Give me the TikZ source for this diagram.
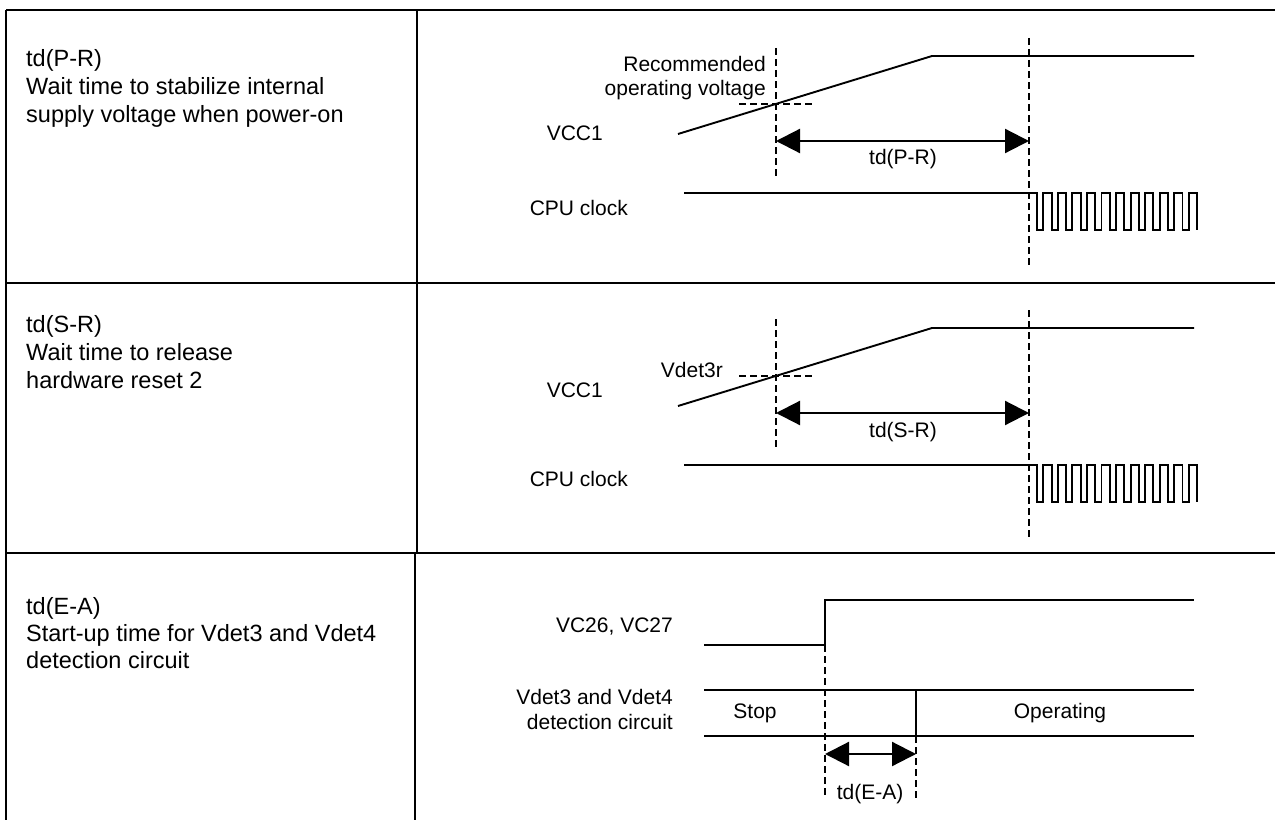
\documentclass[tikz,border=0pt]{standalone}
\usepackage{fontspec}
\setmainfont{Liberation Sans}
\usetikzlibrary{arrows.meta}
\begin{document}
\begin{tikzpicture}[x=1bp,y=-1bp,
  frame/.style={line width=2.4bp},
  sig/.style={line width=1.9bp, line join=miter},
  guide/.style={line width=2.4bp, dash pattern=on 7bp off 4bp},
  dimarrow/.style={line width=2.2bp, {Triangle[length=24bp,width=24bp]}-{Triangle[length=24bp,width=24bp]}},
  lbl/.style={font=\fontsize{21bp}{24bp}\selectfont, inner sep=0pt},
  desc/.style={font=\fontsize{23.5bp}{28bp}\selectfont, inner sep=0pt, anchor=base west},
]
\useasboundingbox (0,0) rectangle (1275,820);

% ---------- table frame ----------
\coordinate (tl) at (6,10);   \coordinate (tr) at (1275,10);
\coordinate (bl) at (6,820);
\coordinate (m1l) at (6,283); \coordinate (m1r) at (1275,283);
\coordinate (m2l) at (6,553); \coordinate (m2r) at (1275,553);
\coordinate (c1t) at (417,10); \coordinate (c1b) at (417,553);
\coordinate (c2t) at (415,553); \coordinate (c2b) at (415,820);
\draw[frame] (tl) -- (tr);
\draw[frame] (tl) -- (bl);
\draw[frame] (m1l) -- (m1r);
\draw[frame] (m2l) -- (m2r);
\draw[frame] (c1t) -- (c1b);
\draw[frame] (c2t) -- (c2b);

% ---------- left column ----------
\node[desc] (d1a) at (26,67)  {td(P-R)};
\node[desc] (d1b) at (26,95)  {Wait time to stabilize internal};
\node[desc] (d1c) at (26,123) {supply voltage when power-on};

\node[desc] (d2a) at (26,332) {td(S-R)};
\node[desc] (d2b) at (26,360) {Wait time to release};
\node[desc] (d2c) at (26,388) {hardware reset 2};

\node[desc] (d3a) at (26,614) {td(E-A)};
\node[desc] (d3b) at (26,641) {Start-up time for Vdet3 and Vdet4};
\node[desc] (d3c) at (26,668) {detection circuit};

% ---------- row 1 ----------
\node[lbl, anchor=base east] (rec1) at (766,72) {Recommended};
\node[lbl, anchor=base east] (rec2) at (766,96) {operating voltage};
\node[lbl, anchor=base east] (vcc1) at (603,140) {VCC1};
\node[lbl, anchor=base east] (cpu1) at (628,215) {CPU clock};
\node[lbl, anchor=base] (tdpr) at (903,164) {td(P-R)};

\coordinate (r1a) at (678,134); \coordinate (r1b) at (932,56); \coordinate (r1c) at (1194,56);
\draw[sig] (r1a) -- (r1b) -- (r1c);
\coordinate (g1t) at (776,48);  \coordinate (g1b) at (776,179);
\coordinate (g2t) at (1029,38); \coordinate (g2b) at (1029,265);
\coordinate (h1l) at (739,104); \coordinate (h1r) at (815,104);
\draw[guide] (g1t) -- (g1b);
\draw[guide] (g2t) -- (g2b);
\draw[guide] (h1l) -- (h1r);
\coordinate (a1l) at (776,141); \coordinate (a1r) at (1029,141);
\draw[dimarrow] (a1l) -- (a1r);
\coordinate (k1s) at (684,193); \coordinate (k1e) at (1037,193);
\draw[sig] (k1s) -- (k1e) foreach \i in {1,...,11} { -- ++(0,37) -- ++(6.3,0) -- ++(0,-37) -- ++(8.245,0) } -- ++(0,37);

% ---------- row 2 ----------
\node[lbl, anchor=base east] (vdr) at (723,377) {Vdet3r};
\node[lbl, anchor=base east] (vcc2) at (603,397) {VCC1};
\node[lbl, anchor=base east] (cpu2) at (628,486) {CPU clock};
\node[lbl, anchor=base] (tdsr) at (903,437) {td(S-R)};

\coordinate (r2a) at (678,406); \coordinate (r2b) at (932,328); \coordinate (r2c) at (1194,328);
\draw[sig] (r2a) -- (r2b) -- (r2c);
\coordinate (g3t) at (776,319);  \coordinate (g3b) at (776,451);
\coordinate (g4t) at (1029,310); \coordinate (g4b) at (1029,537);
\coordinate (h2l) at (739,376);  \coordinate (h2r) at (815,376);
\draw[guide] (g3t) -- (g3b);
\draw[guide] (g4t) -- (g4b);
\draw[guide] (h2l) -- (h2r);
\coordinate (a2l) at (776,413); \coordinate (a2r) at (1029,413);
\draw[dimarrow] (a2l) -- (a2r);
\coordinate (k2s) at (684,465); \coordinate (k2e) at (1037,465);
\draw[sig] (k2s) -- (k2e) foreach \i in {1,...,11} { -- ++(0,37) -- ++(6.3,0) -- ++(0,-37) -- ++(8.245,0) } -- ++(0,37);

% ---------- row 3 ----------
\node[lbl, anchor=base east] (vc) at (673,632) {VC26, VC27};
\node[lbl, anchor=base east] (vd1) at (673,704) {Vdet3 and Vdet4};
\node[lbl, anchor=base east] (vd2) at (673,729) {detection circuit};
\node[lbl, anchor=base] (stop) at (755,718) {Stop};
\node[lbl, anchor=base] (oper) at (1060,718) {Operating};
\node[lbl, anchor=base] (tdea) at (870,799) {td(E-A)};

\coordinate (v1) at (704,645); \coordinate (v2) at (825,645);
\coordinate (v3) at (825,600); \coordinate (v4) at (1194,600);
\draw[sig] (v1) -- (v2) -- (v3) -- (v4);
\coordinate (b1l) at (704,690); \coordinate (b1r) at (1194,690);
\coordinate (b2l) at (704,736); \coordinate (b2r) at (1194,736);
\coordinate (bx1) at (916,690); \coordinate (bx2) at (916,736);
\draw[sig] (b1l) -- (b1r);
\draw[sig] (b2l) -- (b2r);
\draw[sig] (bx1) -- (bx2);
\coordinate (g5b) at (825,798); \coordinate (g6b) at (916,798);
\draw[guide] (v2) -- (g5b);
\draw[guide] (bx2) -- (g6b);
\coordinate (a3l) at (825,754); \coordinate (a3r) at (916,754);
\draw[dimarrow] (a3l) -- (a3r);
\end{tikzpicture}
\end{document}
